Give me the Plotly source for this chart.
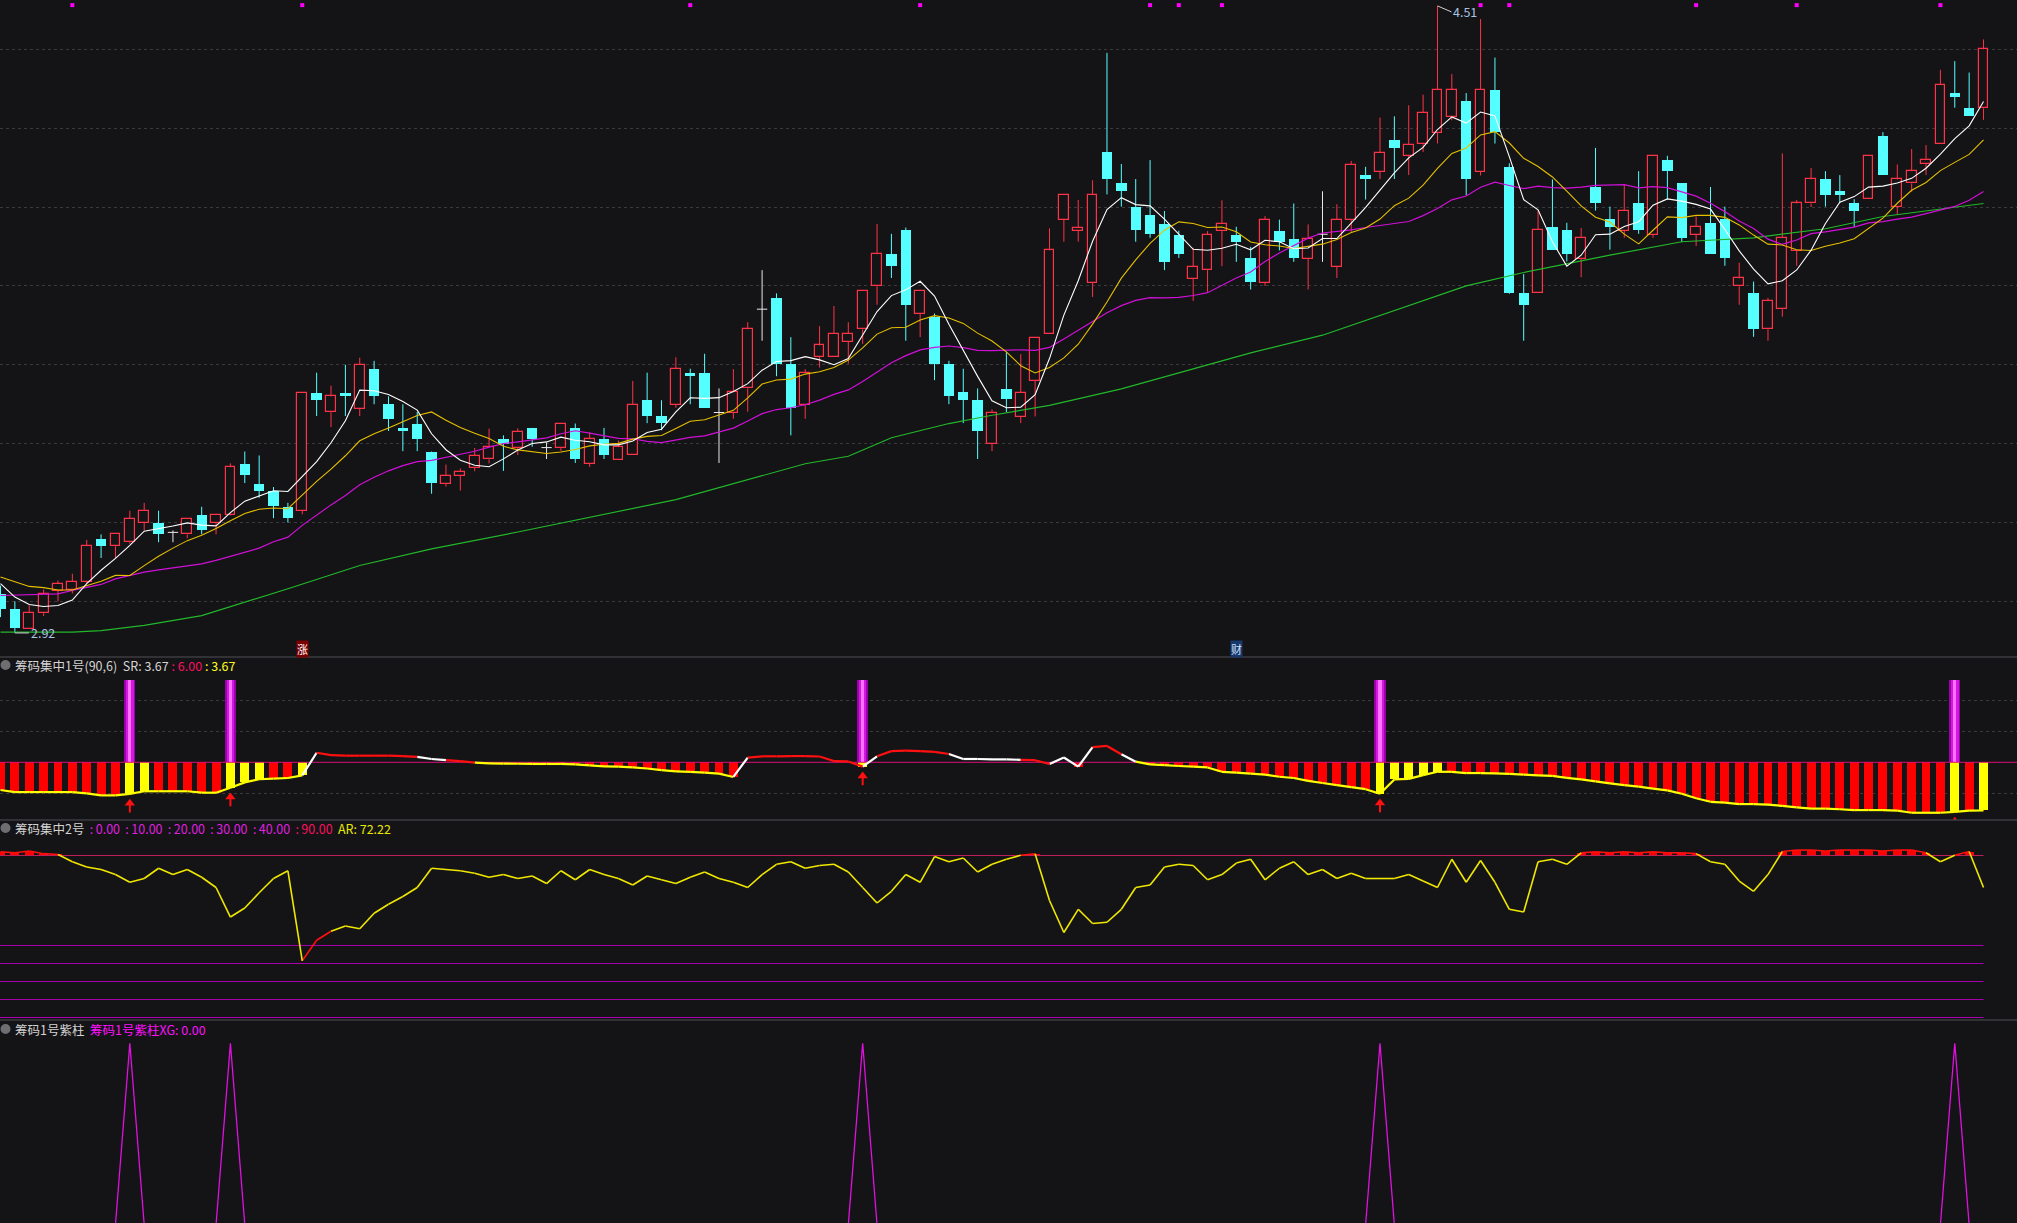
import plotly.graph_objects as go
from plotly.subplots import make_subplots
import pandas as pd

BG = '#141316'
RED = '#ff3348'
CYAN = '#55ffff'

# ---------------- main panel: OHLC (index 0..138) ----------------
opens = [3.02,2.98,2.93,2.97,3.027,3.03,3.05,3.159,3.14,3.15,
         3.20,3.20,3.175,3.17,3.22,3.20,3.22,3.349,3.298,3.28,
         3.24,3.23,3.529,3.48,3.529,3.488,3.59,3.50,3.44,3.45,
         3.38,3.298,3.318,3.339,3.36,3.411,3.389,3.44,3.39,3.389,
         3.44,3.349,3.411,3.359,3.37,3.51,3.47,3.499,3.58,3.58,
         3.479,3.479,3.54,3.741,3.77,3.601,3.499,3.62,3.62,3.659,
         3.69,3.799,3.88,3.942,3.73,3.722,3.601,3.53,3.51,3.40,
         3.539,3.468,3.56,3.679,3.968,3.94,3.808,4.14,4.061,4.00,
         3.979,3.958,3.93,3.818,3.84,3.939,3.93,3.87,3.808,3.94,
         3.92,3.869,3.931,3.848,3.968,4.08,4.09,4.169,4.129,4.159,
         4.188,4.228,4.268,4.09,4.298,4.102,3.781,3.781,3.949,3.942,
         3.869,4.051,3.97,3.94,4.011,3.93,4.119,4.061,3.93,3.96,
         3.97,3.799,3.781,3.69,3.741,3.889,4.009,4.07,4.041,4.011,
         4.02,4.18,4.00,4.06,4.109,4.159,4.289,4.252,4.25]
highs = [3.04,3.00,2.99,3.03,3.053,3.07,3.156,3.17,3.17,3.23,
         3.25,3.23,3.18,3.21,3.24,3.22,3.35,3.38,3.37,3.29,
         3.25,3.53,3.58,3.547,3.60,3.618,3.61,3.52,3.50,3.48,
         3.38,3.347,3.337,3.389,3.438,3.421,3.439,3.44,3.403,3.451,
         3.451,3.429,3.44,3.408,3.559,3.58,3.51,3.619,3.59,3.628,
         3.54,3.589,3.708,3.84,3.781,3.67,3.589,3.698,3.749,3.708,
         3.788,3.957,3.932,3.948,3.788,3.73,3.61,3.59,3.54,3.487,
         3.632,3.627,3.669,3.946,4.03,4.018,4.068,4.391,4.109,4.071,
         4.119,3.99,3.94,3.897,3.939,4.017,3.95,3.899,3.977,3.968,
         4.009,3.956,4.04,4.007,4.117,4.102,4.227,4.23,4.258,4.285,
         4.51,4.337,4.289,4.477,4.379,4.111,3.83,3.991,4.07,3.96,
         3.947,4.15,4.001,4.058,4.091,4.13,4.13,4.061,3.976,4.051,
         4.001,3.859,3.811,3.77,4.136,4.018,4.099,4.091,4.081,4.02,
         4.13,4.19,4.108,4.147,4.157,4.348,4.37,4.341,4.425]
lows = [2.96,2.92,2.93,2.963,3.00,3.02,3.045,3.11,3.11,3.146,
        3.18,3.15,3.15,3.16,3.17,3.17,3.218,3.30,3.263,3.211,
        3.20,3.221,3.47,3.442,3.47,3.47,3.50,3.432,3.381,3.381,
        3.273,3.291,3.281,3.33,3.35,3.331,3.371,3.392,3.361,3.381,
        3.351,3.341,3.361,3.359,3.37,3.452,3.434,3.491,3.50,3.491,
        3.351,3.463,3.481,3.661,3.571,3.421,3.463,3.593,3.62,3.603,
        3.653,3.752,3.82,3.661,3.67,3.561,3.50,3.452,3.361,3.381,
        3.48,3.452,3.469,3.679,3.912,3.912,3.772,4.032,4.001,3.912,
        3.922,3.84,3.871,3.762,3.785,3.85,3.861,3.791,3.80,3.89,
        3.861,3.791,3.861,3.82,3.937,4.019,4.071,4.071,4.081,4.14,
        4.161,4.22,4.03,4.08,4.161,3.78,3.661,3.781,3.892,3.862,
        3.822,3.991,3.892,3.922,3.932,3.922,4.02,3.911,3.901,3.882,
        3.851,3.752,3.671,3.661,3.722,3.851,4.00,4.001,4.011,3.95,
        4.02,4.082,3.982,4.039,4.081,4.159,4.252,4.232,4.221]
closes = [2.98,2.932,2.97,3.02,3.045,3.05,3.14,3.14,3.17,3.21,
          3.23,3.171,3.175,3.21,3.181,3.22,3.34,3.32,3.281,3.242,
          3.211,3.529,3.51,3.52,3.52,3.60,3.52,3.462,3.432,3.411,
          3.30,3.318,3.329,3.369,3.391,3.40,3.43,3.411,3.39,3.451,
          3.361,3.411,3.371,3.391,3.499,3.47,3.452,3.59,3.571,3.491,
          3.479,3.53,3.69,3.741,3.601,3.491,3.58,3.649,3.679,3.679,
          3.788,3.88,3.851,3.752,3.788,3.601,3.521,3.511,3.432,3.479,
          3.512,3.529,3.669,3.89,4.03,3.948,4.03,4.071,4.04,3.942,
          3.932,3.861,3.881,3.848,3.93,3.958,3.911,3.811,3.968,3.911,
          3.871,3.92,3.931,3.968,4.107,4.071,4.138,4.15,4.158,4.239,
          4.298,4.298,4.071,4.298,4.19,3.783,3.752,3.942,3.892,3.882,
          3.921,4.011,3.95,3.99,3.942,4.13,4.091,3.922,3.949,3.882,
          3.872,3.819,3.692,3.761,3.921,4.009,4.07,4.031,4.031,3.991,
          4.13,4.082,4.07,4.091,4.119,4.309,4.279,4.232,4.40]
doji_idx = [12, 38, 50, 53, 92]

# moving-average values read from the picture where the window is not yet full
ma5_head = [3.045, 3.011, 2.992, 2.987]
ma10_head = [3.062, 3.049, 3.038, 3.035, 3.029, 3.029, 3.040, 3.051, 3.066]
ma20_head = [3.015, 3.016, 3.017, 3.018, 3.019, 3.028, 3.036, 3.043, 3.057, 3.066,
             3.074, 3.080, 3.085, 3.091, 3.095, 3.104, 3.114, 3.125, 3.135]
# long MA (green)
green_idx = [0, 5, 7, 10, 14, 20, 25, 30, 36, 47, 56, 59, 62, 66, 69, 73, 78, 82, 87, 92,
             97, 102, 106, 108, 112, 117, 122, 127, 131, 138]
green_val = [2.922, 2.922, 2.926, 2.939, 2.964, 3.032, 3.091, 3.133, 3.176, 3.258, 3.349,
             3.368, 3.415, 3.451, 3.472, 3.497, 3.539, 3.58, 3.63, 3.675, 3.738, 3.80,
             3.834, 3.849, 3.878, 3.912, 3.922, 3.945, 3.976, 4.009]
top_dot_idx = [5, 21, 48, 64, 80, 82, 85, 103, 105, 118, 125, 135]
price_grid = [3.0, 3.2, 3.4, 3.6, 3.8, 4.0, 4.2, 4.4]

# ---------------- panel 1: 筹码集中1号 ----------------
sr = [4.66, 4.56, 4.56, 4.56, 4.56, 4.56, 4.50, 4.40, 4.40, 4.47,
      4.60, 4.60, 4.60, 4.60, 4.53, 4.53, 4.77, 5.03, 5.18, 5.21,
      5.24, 5.37, 6.46, 6.35, 6.32, 6.32, 6.32, 6.32, 6.30, 6.26,
      6.16, 6.10, 6.06, 5.98, 5.95, 5.94, 5.93, 5.92, 5.92, 5.92,
      5.90, 5.85, 5.80, 5.79, 5.75, 5.70, 5.62, 5.56, 5.54, 5.50,
      5.45, 5.29, 6.23, 6.29, 6.29, 6.30, 6.30, 6.28, 6.06, 6.04,
      5.79, 6.29, 6.54, 6.56, 6.54, 6.50, 6.40, 6.16, 6.16, 6.14,
      6.14, 6.12, 6.10, 5.92, 6.23, 5.79, 6.73, 6.79, 6.39, 6.03,
      5.90, 5.86, 5.82, 5.79, 5.75, 5.54, 5.50, 5.45, 5.40, 5.30,
      5.24, 5.10, 5.00, 4.90, 4.80, 4.70, 4.48, 5.17, 5.20, 5.38,
      5.54, 5.54, 5.48, 5.48, 5.46, 5.44, 5.40, 5.37, 5.34, 5.25,
      5.17, 5.08, 4.98, 4.90, 4.82, 4.73, 4.64, 4.48, 4.26, 4.09,
      4.05, 3.98, 3.98, 3.95, 3.89, 3.82, 3.76, 3.76, 3.73, 3.69,
      3.69, 3.69, 3.66, 3.56, 3.56, 3.56, 3.60, 3.66, 3.67]
sr_base = 6.0
sr_yellow_bars = [9, 10, 16, 17, 18, 21, 60, 96, 97, 98, 99, 100, 136, 138]
sr_white_segs = [21, 29, 30, 51, 60, 66, 67, 68, 69, 70, 73, 74, 75, 78]
purple_idx = [9, 16, 60, 96, 136]
purple_top = 10.0

# ---------------- panel 2: 筹码集中2号 ----------------
ar = [92, 91.5, 92.5, 91, 90.5, 86.5, 83.6, 82.2, 79.4, 75.1,
      77.2, 82.9, 79.4, 82.2, 77.9, 72.2, 55.8, 60.8, 69.3, 77.2,
      81.5, 31.5, 42.9, 47.9, 50.8, 49.3, 57.9, 62.9, 67.2, 72.2,
      82.9, 82.2, 81.5, 80.1, 77.9, 79.4, 77.2, 78.6, 74.4, 81.5,
      76.5, 82.2, 79.4, 77.2, 73.6, 78.6, 76.5, 74.4, 77.9, 80.8,
      77.2, 75.1, 72.2, 79.4, 85.1, 86.5, 82.9, 84.4, 85.1, 80.8,
      72.2, 63.6, 70.1, 79.4, 75.1, 89.4, 86.5, 88.6, 80.8, 85.1,
      87.9, 90.1, 91.0, 65.0, 47.2, 60.1, 52.2, 52.9, 60.1, 72.2,
      73.6, 83.6, 85.1, 84.4, 76.5, 79.4, 85.8, 87.9, 76.5, 82.9,
      86.5, 79.4, 82.2, 77.2, 80.1, 77.2, 77.2, 77.2, 79.4, 75.8,
      72.2, 87.9, 75.1, 87.2, 75.1, 60.1, 58.6, 86.5, 87.9, 85.1,
      91.5, 92.0, 91.5, 92.0, 91.5, 92.0, 91.5, 91.5, 91.0, 86.5,
      85.1, 75.8, 70.1, 79.4, 92.2, 93.0, 93.0, 92.5, 93.0, 93.0,
      93.0, 92.5, 93.0, 93.0, 91.5, 86.5, 90.1, 92.2, 72.22]
ar_levels = [0, 10, 20, 30, 40]
ar_top_level = 90

# ---------------- panel 3: 筹码1号紫柱 ----------------
xg = [1 if i in purple_idx else 0 for i in range(len(closes))]

N = len(closes)
idx = list(range(N))

fig = make_subplots(rows=4, cols=1, shared_xaxes=True, vertical_spacing=0,
                    row_heights=[657, 163, 200, 203])

# ---- candles ----
up = [i for i in idx if closes[i] > opens[i] and i not in doji_idx]
dn = [i for i in idx if closes[i] < opens[i] and i not in doji_idx]

def wick_xy(ids, full):
    xs, ys = [], []
    for i in ids:
        top = max(opens[i], closes[i]); bot = min(opens[i], closes[i])
        if full:
            xs += [i, i, None]; ys += [lows[i], highs[i], None]
        else:
            if highs[i] > top:
                xs += [i, i, None]; ys += [top, highs[i], None]
            if lows[i] < bot:
                xs += [i, i, None]; ys += [lows[i], bot, None]
    return xs, ys

wx, wy = wick_xy(dn, True)
fig.add_trace(go.Scatter(x=wx, y=wy, mode='lines', line=dict(color=CYAN, width=1),
                         hoverinfo='skip', showlegend=False), row=1, col=1)
fig.add_trace(go.Bar(x=dn, y=[opens[i] - closes[i] for i in dn], base=[closes[i] for i in dn],
                     width=0.72, marker=dict(color=CYAN, line=dict(width=0)),
                     showlegend=False, hoverinfo='skip'), row=1, col=1)
wx, wy = wick_xy(up, False)
fig.add_trace(go.Scatter(x=wx, y=wy, mode='lines', line=dict(color=RED, width=1),
                         hoverinfo='skip', showlegend=False), row=1, col=1)
fig.add_trace(go.Bar(x=up, y=[closes[i] - opens[i] for i in up], base=[opens[i] for i in up],
                     width=0.68, marker=dict(color=BG, line=dict(color=RED, width=1.2)),
                     showlegend=False, hoverinfo='skip'), row=1, col=1)
dx, dy = [], []
for i in doji_idx:
    dx += [i, i, None, i - 0.36, i + 0.36, None]
    dy += [lows[i], highs[i], None, closes[i], closes[i], None]
fig.add_trace(go.Scatter(x=dx, y=dy, mode='lines', line=dict(color='#e8e8e8', width=1),
                         hoverinfo='skip', showlegend=False), row=1, col=1)

# ---- moving averages ----
cs = pd.Series(closes)
ma5 = cs.rolling(5).mean().to_numpy(); ma5[:4] = ma5_head
ma10 = cs.rolling(10).mean().to_numpy(); ma10[:9] = ma10_head
ma20 = cs.rolling(20).mean().to_numpy(); ma20[:19] = ma20_head
fig.add_trace(go.Scatter(x=green_idx, y=green_val, mode='lines', line=dict(color='#22b82a', width=1.2),
                         hoverinfo='skip', showlegend=False), row=1, col=1)
fig.add_trace(go.Scatter(x=idx, y=ma20, mode='lines', line=dict(color='#d010d8', width=1.2),
                         hoverinfo='skip', showlegend=False), row=1, col=1)
fig.add_trace(go.Scatter(x=idx, y=ma10, mode='lines', line=dict(color='#e6c000', width=1.1),
                         hoverinfo='skip', showlegend=False), row=1, col=1)
fig.add_trace(go.Scatter(x=idx, y=ma5, mode='lines', line=dict(color='#ffffff', width=1.1),
                         hoverinfo='skip', showlegend=False), row=1, col=1)
fig.add_trace(go.Scatter(x=top_dot_idx, y=[4.512] * len(top_dot_idx), mode='markers',
                         marker=dict(symbol='square', size=4, color='#ff00ff'),
                         hoverinfo='skip', showlegend=False), row=1, col=1)

# ---- helper for segment-coloured lines ----
def seg_lines(xs, ys, colors, width, row):
    groups = {}
    for k in range(len(xs) - 1):
        c = colors[k]
        gx, gy = groups.setdefault(c, ([], []))
        gx += [xs[k], xs[k + 1], None]
        gy += [ys[k], ys[k + 1], None]
    for c, (gx, gy) in groups.items():
        fig.add_trace(go.Scatter(x=gx, y=gy, mode='lines', line=dict(color=c, width=width),
                                 hoverinfo='skip', showlegend=False), row=row, col=1)

# ---- panel 1 ----
fig.add_trace(go.Scatter(x=[-1, N + 3], y=[sr_base, sr_base], mode='lines',
                         line=dict(color='#d8107a', width=1), hoverinfo='skip', showlegend=False),
              row=2, col=1)
bar_ids = [i for i in idx if sr[i] < sr_base]
fig.add_trace(go.Bar(x=bar_ids, y=[sr_base - sr[i] for i in bar_ids], base=[sr[i] for i in bar_ids],
                     width=0.62,
                     marker=dict(color=['#ffff00' if i in sr_yellow_bars else '#ff0000' for i in bar_ids],
                                 line=dict(width=0)),
                     hoverinfo='skip', showlegend=False), row=2, col=1)
for w, c in [(0.78, '#9a00a8'), (0.52, '#d018e0'), (0.22, '#ff70ff')]:
    fig.add_trace(go.Bar(x=purple_idx, y=[purple_top - sr_base] * len(purple_idx),
                         base=[sr_base] * len(purple_idx), width=w,
                         marker=dict(color=c, line=dict(width=0)),
                         hoverinfo='skip', showlegend=False), row=2, col=1)
sr_cols = []
for k in range(N - 1):
    if k in sr_white_segs and max(sr[k], sr[k + 1]) > sr_base:
        sr_cols.append('#ffffff')
    elif max(sr[k], sr[k + 1]) > sr_base + 0.03:
        sr_cols.append('#ff1010')
    else:
        sr_cols.append('#ffff00')
seg_lines(idx, sr, sr_cols, 2.2, 2)
# red arrows under the line at the purple-bar days
ax_, ay_ = [], []
for i in purple_idx:
    ax_ += [i, i, None]; ay_ += [sr[i] - 0.45, sr[i] - 0.9, None]
fig.add_trace(go.Scatter(x=ax_, y=ay_, mode='lines', line=dict(color='#ff1010', width=2),
                         hoverinfo='skip', showlegend=False), row=2, col=1)
fig.add_trace(go.Scatter(x=purple_idx, y=[sr[i] - 0.45 for i in purple_idx], mode='markers',
                         marker=dict(symbol='triangle-up', size=9, color='#ff1010'),
                         cliponaxis=True, hoverinfo='skip', showlegend=False), row=2, col=1)

# ---- panel 2 ----
for lv in ar_levels:
    fig.add_trace(go.Scatter(x=[-1, N - 1], y=[lv, lv], mode='lines', line=dict(color='#a800b0', width=1),
                             hoverinfo='skip', showlegend=False), row=3, col=1)
fig.add_trace(go.Scatter(x=[-1, N - 1], y=[ar_top_level, ar_top_level], mode='lines',
                         line=dict(color='#c0205a', width=1), hoverinfo='skip', showlegend=False),
              row=3, col=1)
hi_ids = [i for i in idx if ar[i] > ar_top_level]
fig.add_trace(go.Bar(x=hi_ids, y=[ar[i] - ar_top_level for i in hi_ids], base=[ar_top_level] * len(hi_ids),
                     width=0.62, marker=dict(color='#ff0000', line=dict(width=0)),
                     hoverinfo='skip', showlegend=False), row=3, col=1)
ar_cols = []
for k in range(N - 1):
    if (ar[k] >= ar_top_level and ar[k + 1] >= ar_top_level) or k in (21, 22):
        ar_cols.append('#ff1010')
    else:
        ar_cols.append('#f0e800')
seg_lines(idx, ar, ar_cols, 1.6, 3)

# ---- panel 3 ----
fig.add_trace(go.Scatter(x=idx, y=xg, mode='lines', line=dict(color='#e010e0', width=1.3),
                         hoverinfo='skip', showlegend=False), row=4, col=1)

# ---- axes ----
xr = [-0.035, 140.33]
for r in range(1, 5):
    fig.update_xaxes(range=xr, showgrid=False, showticklabels=False, zeroline=False,
                     showline=False, rangeslider=dict(visible=False), row=r, col=1)
fig.update_yaxes(range=[2.859, 4.525], tickvals=price_grid, showticklabels=False, showgrid=True,
                 gridcolor='#3a3a3e', griddash='dot', gridwidth=1, zeroline=False, row=1, col=1)
fig.update_yaxes(range=[3.21, 11.09], tickvals=[4.5, 7.5, 9.0], showticklabels=False, showgrid=True,
                 gridcolor='#3a3a3e', griddash='dot', zeroline=False, row=2, col=1)
fig.update_yaxes(range=[-1.39, 109.7], showticklabels=False, showgrid=False, zeroline=False, row=3, col=1)
fig.update_yaxes(range=[0.01, 1.128], showticklabels=False, showgrid=False, zeroline=False, row=4, col=1)

H = 1223.0
W = 2017.0
def py(y):
    return 1 - y / H

shapes = []
for y in [657, 820, 1020]:
    shapes.append(dict(type='line', xref='paper', yref='paper', x0=0, x1=1, y0=py(y), y1=py(y),
                       line=dict(color='#3c3c42', width=1.5)))
for y in [665, 828, 1029]:
    shapes.append(dict(type='circle', xref='paper', yref='paper', x0=0.5 / W, x1=10.5 / W,
                       y0=py(y + 5), y1=py(y - 5), fillcolor='#6e6e72', line=dict(width=0)))

FONT = 'Noto Sans CJK SC, Microsoft YaHei, sans-serif'
ann = []
def head(y, html):
    ann.append(dict(xref='paper', yref='paper', x=13 / W, y=py(y), xanchor='left', yanchor='middle',
                    text=html, showarrow=False, font=dict(family=FONT, size=12.5, color='#d4d4d4')))
head(665, '筹码集中1号(90,6)  SR: %.2f <span style="color:#ff1060">: %.2f</span> '
          '<span style="color:#ffff20">: %.2f</span>' % (sr[-1], sr_base, sr[-1]))
TS = '\u2009'
lv_txt = ' '.join('<span style="color:#e020e0">%s:%s%.2f</span>' % (TS, TS, v) for v in ar_levels)
head(828, '筹码集中2号 ' + lv_txt + ' <span style="color:#ff1060">%s:%s%.2f</span> '
          '<span style="color:#e8e800">%sAR: %.2f</span>' % (TS, TS, ar_top_level, TS, ar[-1]))
head(1029, '筹码1号紫柱  <span style="color:#ff10ff">筹码1号紫柱XG: %.2f</span>' % xg[-1])

ann.append(dict(xref='x', yref='y', x=1, y=2.92, ax=14, ay=0,
                xanchor='left', text='2.92', showarrow=True, arrowhead=0, arrowwidth=1,
                arrowcolor='#d0d0d0', font=dict(family=FONT, size=12.5, color='#a8c4e0')))
ann.append(dict(xref='x', yref='y', x=100, y=4.51, ax=14, ay=6, xanchor='left', text='4.51',
                showarrow=True, arrowhead=0, arrowwidth=1, arrowcolor='#d0d0d0',
                font=dict(family=FONT, size=12.5, color='#a8c4e0')))
ann.append(dict(xref='x', yref='paper', x=21, y=py(649), text='涨', showarrow=False,
                bgcolor='#7a0000', font=dict(family=FONT, size=11, color='#ffffff'), borderpad=0))
ann.append(dict(xref='x', yref='paper', x=86, y=py(649), text='财', showarrow=False,
                bgcolor='#16386a', font=dict(family=FONT, size=11, color='#cfe0ff'), borderpad=0))

fig.update_layout(width=2017, height=1223, margin=dict(l=0, r=0, t=0, b=0),
                  paper_bgcolor=BG, plot_bgcolor=BG, barmode='overlay', bargap=0,
                  showlegend=False, shapes=shapes, annotations=ann, hovermode=False)
fig.write_html('out.html', config={'displayModeBar': False},
               post_script="document.body.style.margin='0';document.body.style.padding='0';"
                           "document.body.style.overflow='hidden';"
                           "document.body.style.background='#141316';")
